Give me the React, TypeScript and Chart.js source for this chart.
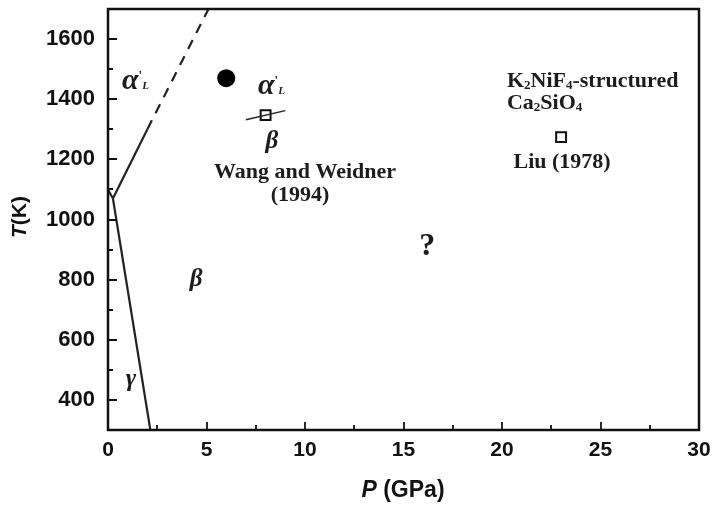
import { useEffect, useRef } from "react";
import { Chart, registerables } from "chart.js";
Chart.register(...registerables);

// ---- axis ranges & ticks ----
const X_MIN = 0, X_MAX = 30, Y_MIN = 300, Y_MAX = 1700;
const xMajorTicks = [0, 5, 10, 15, 20, 25, 30];
const xMinorTicks = [2.5, 7.5, 12.5, 17.5, 22.5, 27.5];
const yMajorTicks = [400, 600, 800, 1000, 1200, 1400, 1600];
const yMinorTicks = [300, 500, 700, 900, 1100, 1300, 1500, 1700];

// ---- phase boundaries (P GPa, T K) ----
const boundaryAxisToTriple = [{ x: 0, y: 1100 }, { x: 0.25, y: 1070 }];
const boundaryGammaBeta = [{ x: 0.25, y: 1070 }, { x: 2.15, y: 300 }];
const boundaryAlphaBetaSolid = [{ x: 0.25, y: 1070 }, { x: 2.0, y: 1300 }];
const boundaryAlphaBetaDashed = [{ x: 2.0, y: 1300 }, { x: 5.1, y: 1700 }];
const wangSegment = [{ x: 7.0, y: 1332 }, { x: 9.0, y: 1362 }];

// ---- experimental points ----
const filledPoint = [{ x: 6.0, y: 1470 }];
const openSquares = [{ x: 8.0, y: 1347 }, { x: 23.0, y: 1274 }];

type Run = { t: string; size: number; italic?: boolean; dy?: number; family?: string };
type Note = { p: number; t: number; align: CanvasTextAlign; runs: Run[] };

const SERIF = '"Liberation Serif", "Times New Roman", serif';
const SANS = '"Liberation Sans", Arial, sans-serif';

const notes: Note[] = [
  { p: 0.71, t: 1435, align: "left", runs: [{ t: "α", size: 30, italic: true }, { t: "'", size: 13, dy: -10 }, { t: "L", size: 11, italic: true }] },
  { p: 7.61, t: 1419, align: "left", runs: [{ t: "α", size: 30, italic: true }, { t: "'", size: 13, dy: -10 }, { t: "L", size: 11, italic: true }] },
  { p: 8.32, t: 1237, align: "center", runs: [{ t: "β", size: 25, italic: true }] },
  { p: 10.0, t: 1138, align: "center", runs: [{ t: "Wang and Weidner", size: 22 }] },
  { p: 9.75, t: 1060, align: "center", runs: [{ t: "(1994)", size: 22 }] },
  { p: 20.25, t: 1440, align: "left", runs: [{ t: "K", size: 22 }, { t: "2", size: 13, dy: 2 }, { t: "NiF", size: 22 }, { t: "4", size: 13, dy: 2 }, { t: "-structured", size: 22 }] },
  { p: 20.25, t: 1368, align: "left", runs: [{ t: "Ca", size: 22 }, { t: "2", size: 13, dy: 2 }, { t: "SiO", size: 22 }, { t: "4", size: 13, dy: 2 }] },
  { p: 23.05, t: 1170, align: "center", runs: [{ t: "Liu (1978)", size: 22 }] },
  { p: 16.2, t: 882, align: "center", runs: [{ t: "?", size: 32 }] },
  { p: 4.47, t: 780, align: "center", runs: [{ t: "β", size: 25, italic: true }] },
  { p: 1.17, t: 446, align: "center", runs: [{ t: "γ", size: 25, italic: true }] },
];

function drawRuns(ctx: CanvasRenderingContext2D, runs: Run[], x: number, y: number, align: CanvasTextAlign, family: string, bold = true) {
  const fontOf = (r: Run) => `${r.italic ? "italic " : ""}${bold ? "bold " : ""}${r.size}px ${r.family || family}`;
  let total = 0;
  const widths = runs.map((r) => { ctx.font = fontOf(r); const w = ctx.measureText(r.t).width; total += w; return w; });
  let cx = align === "center" ? x - total / 2 : align === "right" ? x - total : x;
  ctx.textAlign = "left";
  runs.forEach((r, i) => {
    ctx.font = fontOf(r);
    ctx.fillText(r.t, cx, y + (r.dy || 0));
    cx += widths[i];
  });
}

const overlay = {
  id: "overlay",
  afterDatasetsDraw(chart: any) {
    const { ctx, chartArea: a, scales } = chart;
    const xs = scales.x, ys = scales.y;
    ctx.save();
    ctx.strokeStyle = "#111";
    ctx.lineWidth = 1.8;
    ctx.beginPath();
    xMajorTicks.forEach((v) => { const px = Math.round(xs.getPixelForValue(v)) ; ctx.moveTo(px, a.bottom); ctx.lineTo(px, a.bottom - 8); });
    xMinorTicks.forEach((v) => { const px = Math.round(xs.getPixelForValue(v)); ctx.moveTo(px, a.bottom); ctx.lineTo(px, a.bottom - 5); });
    yMajorTicks.forEach((v) => { const py = Math.round(ys.getPixelForValue(v)); ctx.moveTo(a.left, py); ctx.lineTo(a.left + 9, py); });
    yMinorTicks.forEach((v) => { const py = Math.round(ys.getPixelForValue(v)); ctx.moveTo(a.left, py); ctx.lineTo(a.left + 5, py); });
    ctx.stroke();
    ctx.lineWidth = 2.5;
    ctx.strokeRect(a.left, a.top, a.right - a.left, a.bottom - a.top);

    // axis titles
    ctx.fillStyle = "#111";
    ctx.textBaseline = "middle";
    drawRuns(ctx, [{ t: "P", size: 23, italic: true }, { t: " (GPa)", size: 23 }], 403, 491, "center", SANS);
    ctx.save();
    ctx.translate(20, 217);
    ctx.rotate(-Math.PI / 2);
    drawRuns(ctx, [{ t: "T", size: 21, italic: true }, { t: "(K)", size: 21 }], 0, 0, "center", SANS);
    ctx.restore();

    // annotations
    ctx.fillStyle = "#1c1c1c";
    ctx.textBaseline = "alphabetic";
    notes.forEach((n) => {
      drawRuns(ctx, n.runs, xs.getPixelForValue(n.p), ys.getPixelForValue(n.t), n.align, SERIF);
    });
    ctx.restore();
  },
};

const zeroPad = (s: any) => { s.paddingTop = 0; s.paddingBottom = 0; s.paddingLeft = 0; s.paddingRight = 0; };

export default function App() {
  const ref = useRef<HTMLCanvasElement | null>(null);
  useEffect(() => {
    if (!ref.current) return;
    const lineDs = (data: any[], dash: number[] = [], width = 2.2) => ({
      data,
      showLine: true,
      borderColor: "#222",
      borderWidth: width,
      borderDash: dash,
      pointRadius: 0,
      pointHoverRadius: 0,
      fill: false,
      tension: 0,
    });
    const chart = new Chart(ref.current, {
      type: "scatter",
      data: {
        datasets: [
          lineDs(boundaryAxisToTriple),
          lineDs(boundaryGammaBeta),
          lineDs(boundaryAlphaBetaSolid),
          lineDs(boundaryAlphaBetaDashed, [10, 8]),
          lineDs(wangSegment, [], 1.5),
          {
            data: openSquares,
            pointStyle: "rect",
            pointRadius: 7,
            backgroundColor: "#ffffff",
            borderColor: "#111",
            borderWidth: 2,
            showLine: false,
          },
          {
            data: filledPoint,
            pointStyle: "circle",
            pointRadius: 9,
            backgroundColor: "#000",
            borderColor: "#000",
            borderWidth: 0,
            showLine: false,
          },
        ] as any,
      },
      options: {
        animation: false,
        responsive: false,
        layout: { padding: { left: 0, right: 15, top: 7, bottom: 0 } },
        plugins: { legend: { display: false }, tooltip: { enabled: false }, title: { display: false } },
        scales: {
          x: {
            type: "linear",
            min: X_MIN,
            max: X_MAX,
            grid: { display: false, drawTicks: false },
            border: { display: false },
            afterBuildTicks: (s: any) => { s.ticks = xMajorTicks.map((v) => ({ value: v })); },
            afterFit: (s: any) => { s.height = 76; zeroPad(s); },
            ticks: { color: "#111", padding: 8, maxRotation: 0, callback: (v: any) => String(v), font: { family: SANS, size: 21, weight: "bold" } },
          },
          y: {
            type: "linear",
            min: Y_MIN,
            max: Y_MAX,
            grid: { display: false, drawTicks: false },
            border: { display: false },
            afterBuildTicks: (s: any) => { s.ticks = yMajorTicks.map((v) => ({ value: v })); },
            afterFit: (s: any) => { s.width = 108; zeroPad(s); },
            ticks: { color: "#111", padding: 13, callback: (v: any) => String(v), font: { family: SANS, size: 22, weight: "bold" } },
          },
        },
      } as any,
      plugins: [overlay],
    });
    return () => chart.destroy();
  }, []);
  return (
    <div style={{ position: "fixed", left: 0, top: 0, width: 714, height: 506, background: "#fff" }}>
      <canvas ref={ref} width={714} height={506} />
    </div>
  );
}
